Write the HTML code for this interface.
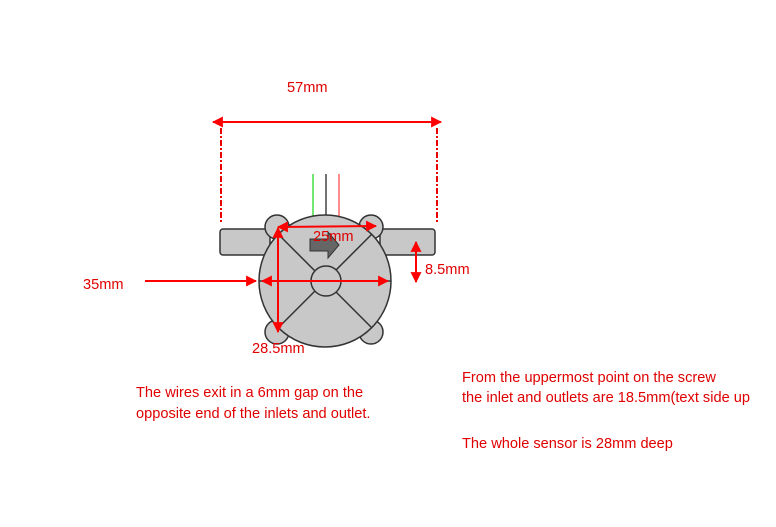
<!DOCTYPE html>
<html><head><style>
body{margin:0;background:#fff;width:776px;height:522px;overflow:hidden}
svg text{font-family:"Liberation Sans",sans-serif;font-size:14.6px;fill:#e00000}
</style></head><body>
<svg width="776" height="522" viewBox="0 0 776 522">
<defs>
<marker id="a" viewBox="0 0 10 10" refX="9" refY="5" markerWidth="5.5" markerHeight="5.5" orient="auto-start-reverse"><path d="M0,0L10,5L0,10z" fill="#f00"/></marker>
</defs>
<line x1="313" y1="174" x2="313" y2="216" stroke="#4d4" stroke-width="1.5"/>
<line x1="326" y1="174" x2="326" y2="216" stroke="#444" stroke-width="1.5"/>
<line x1="339" y1="174" x2="339" y2="216" stroke="#f66" stroke-width="1.5"/>
<rect x="220" y="229" width="50" height="26" rx="3" fill="#c8c8c8" stroke="#333" stroke-width="1.5"/>
<rect x="380" y="229" width="55" height="26" rx="3" fill="#c8c8c8" stroke="#333" stroke-width="1.5"/>
<g fill="#c8c8c8" stroke="#333" stroke-width="1.5">
<circle cx="277" cy="227" r="12"/><circle cx="371" cy="227" r="12"/>
<circle cx="277" cy="332" r="12"/><circle cx="371" cy="332" r="12"/>
<circle cx="325" cy="281" r="66"/>
</g>
<g stroke="#333" stroke-width="1.5">
<line x1="278" y1="234" x2="372" y2="328"/><line x1="372" y1="234" x2="278" y2="328"/>
<line x1="259" y1="281" x2="391" y2="281"/>
</g>
<circle cx="326" cy="281" r="15" fill="#c8c8c8" stroke="#333" stroke-width="1.5"/>
<path d="M310,239h18v-7l11,13l-11,13v-7h-18z" fill="#666" stroke="#333"/>
<g stroke="#f00" stroke-width="2" marker-start="url(#a)" marker-end="url(#a)">
<line x1="213" y1="122" x2="441" y2="122"/>
<line x1="278" y1="227" x2="376" y2="226"/>
<line x1="278" y1="228" x2="278" y2="332"/>
<line x1="262" y1="281" x2="388" y2="281"/>
<line x1="416" y1="242" x2="416" y2="282"/>
</g>
<line x1="145" y1="281" x2="256" y2="281" stroke="#f00" stroke-width="2" marker-end="url(#a)"/>
<g stroke="#e00" stroke-width="2" stroke-dasharray="6,2,2,2">
<line x1="221" y1="128" x2="221" y2="222"/><line x1="437" y1="128" x2="437" y2="222"/>
</g>
<text x="287" y="92">57mm</text>
<text x="313" y="241">25mm</text>
<text x="425" y="274">8.5mm</text>
<text x="83" y="289">35mm</text>
<text x="252" y="353">28.5mm</text>
<text x="136" y="397">The wires exit in a 6mm gap on the</text>
<text x="136" y="418">opposite end of the inlets and outlet.</text>
<text x="462" y="382">From the uppermost point on the screw</text>
<text x="462" y="402">the inlet and outlets are 18.5mm(text side up</text>
<text x="462" y="448">The whole sensor is 28mm deep</text>
</svg>
</body></html>
